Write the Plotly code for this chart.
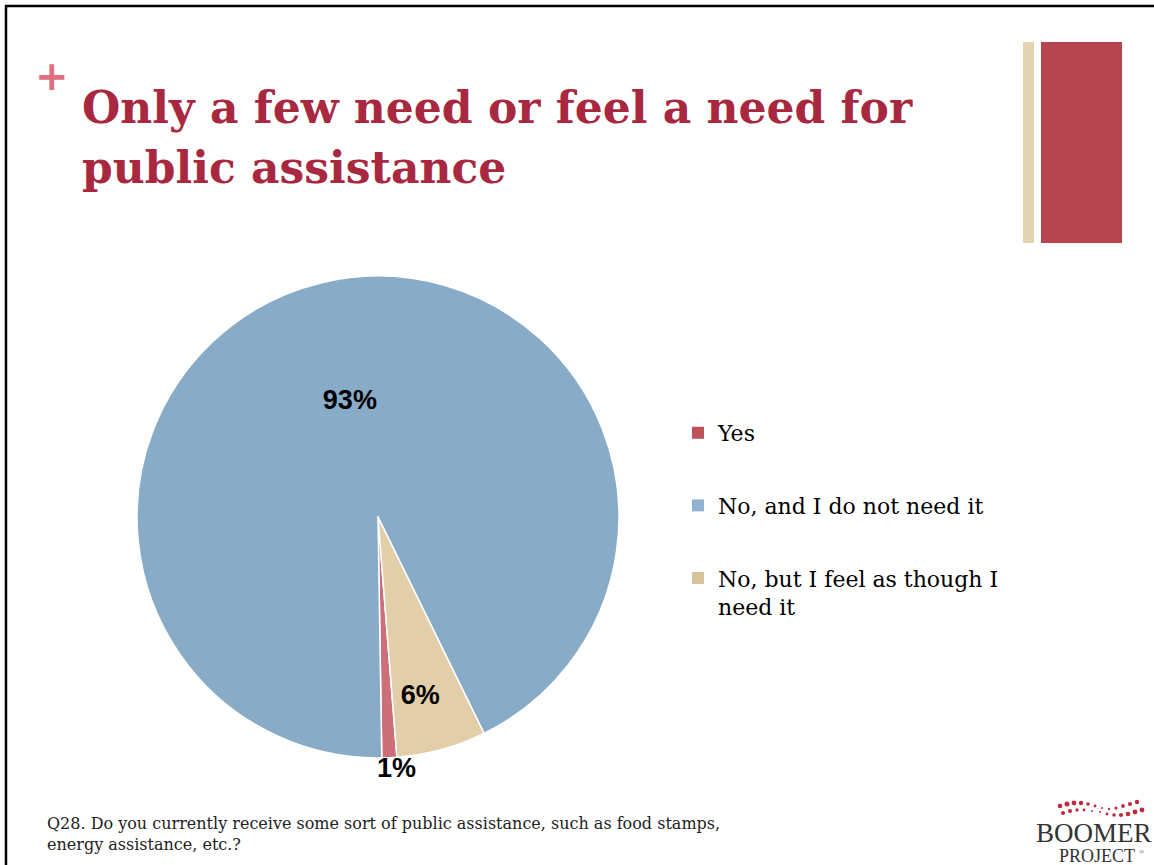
import plotly.graph_objects as go

# ---- data ----
categories = ["Yes", "No, and I do not need it", "No, but I feel as though I need it"]
legend_labels = ["Yes", "No, and I do not need it", "No, but I feel as though I<br>need it"]
values = [1, 93, 6]
slice_colors = ["#cc6f78", "#88abc8", "#e2cfa9"]
legend_colors = ["#c0505a", "#8fb3d0", "#d8c49c"]

title_line1 = "Only a few need or feel a need for"
title_line2 = "public assistance"
footnote = ("Q28. Do you currently receive some sort of public assistance, such as food stamps,<br>"
            "energy assistance, etc.?")

W, H = 1154, 865

def px(x):
    return x / W

def py(y):
    return 1 - y / H

fig = go.Figure()

fig.add_trace(go.Pie(
    labels=categories,
    values=values,
    sort=False,
    direction="clockwise",
    rotation=175.5,
    marker=dict(colors=slice_colors, line=dict(color="white", width=1.5)),
    texttemplate=[" <br>&nbsp;&nbsp;%{percent:.0%}", "%{percent:.0%}",
                  "%{percent:.0%}&nbsp;&nbsp;&nbsp;<br> "],
    textposition=["inside", "inside", "inside"],
    insidetextorientation="horizontal",
    textfont=dict(family="Liberation Sans", size=27, color="black", weight="bold"),
    showlegend=False,
    hoverinfo="label+percent",
    domain=dict(x=[px(137), px(619)], y=[py(758), py(276)]),
))

# legend entries (one group per category so they can be spaced like the original)
for i, (lab, col) in enumerate(zip(legend_labels, legend_colors)):
    fig.add_trace(go.Scatter(
        x=[None], y=[None], mode="markers",
        marker=dict(symbol="square", size=9, color=col,
                    line=dict(color="white", width=0)),
        name=lab, legendgroup=f"g{i}", showlegend=True,
    ))

fig.update_layout(
    width=W, height=H,
    margin=dict(l=0, r=0, t=0, b=0),
    paper_bgcolor="white",
    plot_bgcolor="white",
    xaxis=dict(visible=False, domain=[0.99, 1.0]),
    yaxis=dict(visible=False, domain=[0.99, 1.0]),
    legend=dict(
        x=px(678), y=py(412), xanchor="left", yanchor="top",
        font=dict(family="DejaVu Serif", size=22, color="black"),
        tracegroupgap=41, valign="top", itemsizing="constant",
        bgcolor="rgba(0,0,0,0)",
    ),
    uniformtext=dict(minsize=27, mode="show"),
)

annotations = [
    dict(text="+", x=px(33), y=py(76), xanchor="left", yanchor="middle",
         font=dict(family="DejaVu Sans", size=40, color="#e0707f", weight="bold")),
    dict(text=title_line1, x=px(80), y=py(80),
         xanchor="left", yanchor="top", align="left",
         font=dict(family="DejaVu Serif", size=44, color="#a8283f", weight="bold")),
    dict(text=title_line2, x=px(80), y=py(140),
         xanchor="left", yanchor="top", align="left",
         font=dict(family="DejaVu Serif", size=44, color="#a8283f", weight="bold")),
    dict(text=footnote, x=px(45), y=py(812), xanchor="left", yanchor="top", align="left",
         font=dict(family="DejaVu Serif", size=16, color="#222222")),
    dict(text="BOOMER", x=px(1094), y=py(833), xanchor="center", yanchor="middle",
         font=dict(family="Liberation Serif", size=27, color="#333333")),
    dict(text="PROJECT", x=px(1097), y=py(856), xanchor="center", yanchor="middle",
         font=dict(family="Liberation Serif", size=18, color="#333333")),
    dict(text="®", x=px(1137), y=py(852), xanchor="left", yanchor="middle",
         font=dict(family="Liberation Serif", size=7, color="#555555")),
]
for a in annotations:
    a.update(xref="paper", yref="paper", showarrow=False)
fig.update_layout(annotations=annotations)

shapes = [
    # slide frame
    dict(type="line", x0=px(5), x1=1, y0=py(6), y1=py(6), line=dict(color="black", width=2.5)),
    dict(type="line", x0=px(6), x1=px(6), y0=py(5), y1=0, line=dict(color="black", width=2.5)),
    # decorative bars
    dict(type="rect", x0=px(1023), x1=px(1034), y0=py(42), y1=py(243),
         fillcolor="#e2d3b1", line=dict(width=0)),
    dict(type="rect", x0=px(1041), x1=px(1122), y0=py(42), y1=py(243),
         fillcolor="#b5444f", line=dict(width=0)),
]
# logo dots
dot_rows = [
    [(1060, 806, 2.3), (1067, 804, 2.5), (1074, 803, 2.4), (1081, 803, 2.2), (1088, 804, 1.8),
     (1095, 806, 1.4), (1102, 808, 1.0), (1109, 809, 1.2), (1116, 808, 1.6), (1123, 806, 1.9),
     (1130, 804, 2.1), (1137, 802, 2.2)],
    [(1063, 813, 2.0), (1070, 811, 2.0), (1077, 810, 1.7), (1084, 810, 1.4), (1092, 811, 1.0),
     (1100, 812, 1.0), (1107, 814, 1.4), (1114, 815, 1.8), (1121, 815, 2.1), (1128, 814, 2.3),
     (1135, 812, 2.4), (1142, 810, 2.4)],
]
for row in dot_rows:
    for (cx, cy, r) in row:
        shapes.append(dict(type="circle", x0=px(cx - r), x1=px(cx + r), y0=py(cy + r), y1=py(cy - r),
                           fillcolor="#c0283e", line=dict(width=0)))
for s in shapes:
    s.update(xref="paper", yref="paper")
fig.update_layout(shapes=shapes)

fig.write_html("out.html", config={"displayModeBar": False},
               post_script="document.body.style.margin='0';")
